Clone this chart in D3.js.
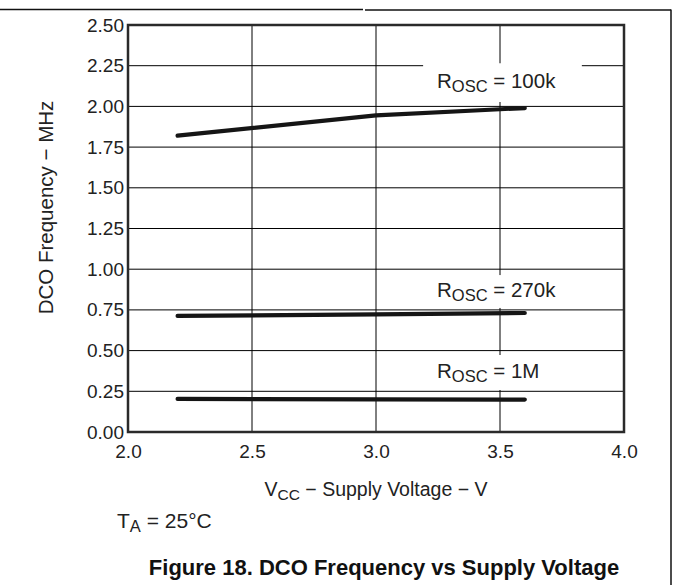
<!DOCTYPE html>
<html>
<head>
<meta charset="utf-8">
<script src="https://cdn.jsdelivr.net/npm/d3@7"></script>
<style>
  html, body { margin: 0; padding: 0; background: #fff; }
  svg { display: block; font-family: "Liberation Sans", Arial, Helvetica, sans-serif; }
</style>
</head>
<body>
<svg id="chart" width="673" height="585"></svg>
<script>
// ---- data ----
const supplyVoltage = [2.2, 3.0, 3.6];
const freq100k = [1.82, 1.945, 1.99];
const freq270k = [0.713, 0.722, 0.731];
const freq1M = [0.203, 0.200, 0.199];
const seriesNames = ["100k", "270k", "1M"];
const xTicks = [2.0, 2.5, 3.0, 3.5, 4.0];
const yTicks = [0.00, 0.25, 0.50, 0.75, 1.00, 1.25, 1.50, 1.75, 2.00, 2.25, 2.50];

// ---- layout ----
const svg = d3.select("#chart");
const L = 128, R = 624, T = 25, B = 432;
const x = d3.scaleLinear().domain([2, 4]).range([L, R]);
const y = d3.scaleLinear().domain([0, 2.5]).range([B, T]);

// page rules (cropped header)
svg.append("line").attr("x1", 0).attr("x2", 363).attr("y1", 9.5).attr("y2", 9.5)
  .attr("stroke", "#111").attr("stroke-width", 1.5);
svg.append("line").attr("x1", 365).attr("x2", 671).attr("y1", 10).attr("y2", 10)
  .attr("stroke", "#111").attr("stroke-width", 1.5);
svg.append("line").attr("x1", 671).attr("x2", 671).attr("y1", 9.5).attr("y2", 585)
  .attr("stroke", "#111").attr("stroke-width", 1.5);

// gridlines
const grid = svg.append("g");
grid.selectAll(".gx").data(xTicks.slice(1, -1)).join("line")
  .attr("x1", d => x(d)).attr("x2", d => x(d)).attr("y1", T).attr("y2", B)
  .attr("stroke", "#000").attr("stroke-width", 1);
grid.selectAll(".gy").data(yTicks.slice(1, -1)).join("line")
  .attr("x1", L).attr("x2", R).attr("y1", d => y(d)).attr("y2", d => y(d))
  .attr("stroke", "#000").attr("stroke-width", 1);

// label backgrounds (mask gridlines)
const labels = [
  { name: seriesNames[0], vx: 3.246, vy: 2.113, box: [3.19, 3.83, 2.265, 2.027] },
  { name: seriesNames[1], vx: 3.246, vy: 0.829, box: [3.2, 3.8, 0.964, 0.762] },
  { name: seriesNames[2], vx: 3.246, vy: 0.332, box: [3.2, 3.8, 0.473, 0.258] }
];
svg.append("g").selectAll("rect").data(labels).join("rect")
  .attr("x", d => x(d.box[0])).attr("y", d => y(d.box[2]))
  .attr("width", d => x(d.box[1]) - x(d.box[0]))
  .attr("height", d => y(d.box[3]) - y(d.box[2]))
  .attr("fill", "#fff");

// frame
svg.append("rect").attr("x", L).attr("y", T).attr("width", R - L).attr("height", B - T)
  .attr("fill", "none").attr("stroke", "#2a2a2a").attr("stroke-width", 2.5);

// axes (labels only)
const xAxis = d3.axisBottom(x).tickValues(xTicks).tickFormat(d3.format(".1f")).tickSize(0).tickPadding(13);
const yAxis = d3.axisLeft(y).tickValues(yTicks).tickFormat(d3.format(".2f")).tickSize(0).tickPadding(4);
const gx = svg.append("g").attr("transform", `translate(0,${B})`).call(xAxis);
const gy = svg.append("g").attr("transform", `translate(${L},0)`).call(yAxis);
[gx, gy].forEach(g => {
  g.select(".domain").remove();
  g.selectAll("text").attr("font-size", 19).attr("fill", "#222")
    .attr("font-family", "'Liberation Sans', Arial, sans-serif");
});

// series lines
const line = d3.line().x((d, i) => x(supplyVoltage[i])).y(d => y(d));
[freq100k, freq270k, freq1M].forEach(s => {
  svg.append("path").datum(s).attr("d", line)
    .attr("fill", "none").attr("stroke", "#151515").attr("stroke-width", 4.2)
    .attr("stroke-linecap", "round").attr("stroke-linejoin", "round");
});

// series labels
labels.forEach(d => {
  const t = svg.append("text").attr("x", x(d.vx)).attr("y", y(d.vy))
    .attr("font-size", 20.5).attr("fill", "#222");
  t.append("tspan").text("R");
  t.append("tspan").attr("font-size", 16.5).attr("dy", 4).text("OSC");
  t.append("tspan").attr("dy", -4).text(" = " + d.name);
});

// axis titles
svg.append("text").attr("transform", "translate(53,207.5) rotate(-90)")
  .attr("text-anchor", "middle").attr("font-size", 20.5).attr("fill", "#222")
  .text("DCO Frequency − MHz");

const xt = svg.append("text").attr("x", x(3.0)).attr("y", 496)
  .attr("text-anchor", "middle").attr("font-size", 19.5).attr("fill", "#222");
xt.append("tspan").text("V");
xt.append("tspan").attr("font-size", 15.5).attr("dy", 4).text("CC");
xt.append("tspan").attr("dy", -4).text(" − Supply Voltage − V");

const ta = svg.append("text").attr("x", 117).attr("y", 528).attr("font-size", 21).attr("fill", "#222");
ta.append("tspan").text("T");
ta.append("tspan").attr("font-size", 16.5).attr("dy", 4).text("A");
ta.append("tspan").attr("dy", -4).text(" = 25°C");

svg.append("text").attr("x", 384).attr("y", 575).attr("text-anchor", "middle")
  .attr("font-size", 22).attr("font-weight", "bold").attr("fill", "#111")
  .text("Figure 18. DCO Frequency vs Supply Voltage");
</script>
</body>
</html>
